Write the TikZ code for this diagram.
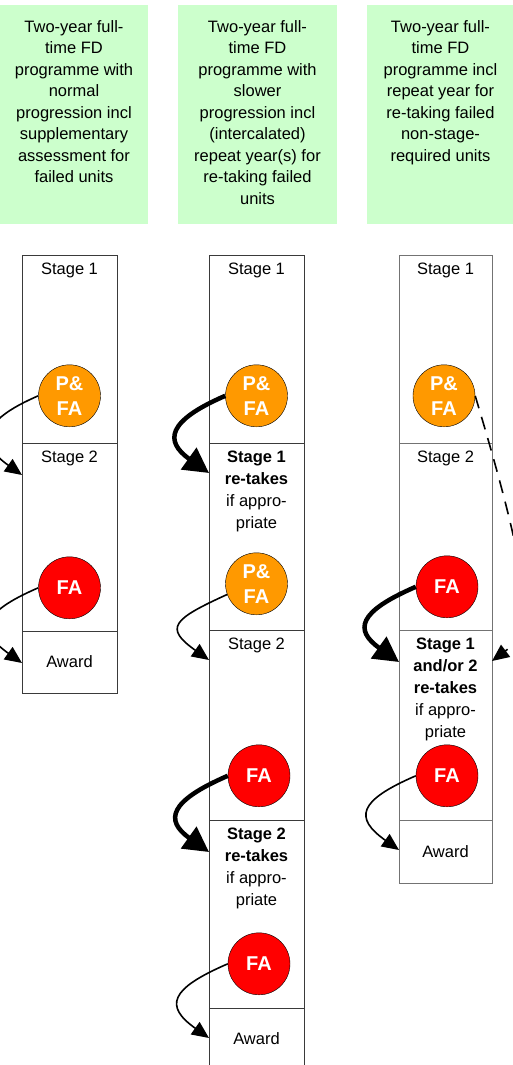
\documentclass[tikz,border=0pt]{standalone}
\usepackage{fontspec}
\setmainfont{Liberation Sans}
\usetikzlibrary{positioning,arrows.meta}

\definecolor{hdrgreen}{HTML}{CCFFCC}
\definecolor{pfaorange}{HTML}{FF9900}
\definecolor{fared}{HTML}{FF0000}
\definecolor{boxgray}{HTML}{3A3A3A}

\tikzset{
	hdr/.style={fill=hdrgreen, minimum height=219pt, inner sep=0pt, outer sep=0pt, anchor=north},
	hdrtxt/.style={align=center, font=\fontsize{16.5}{21.5}\selectfont, inner sep=0pt},
	seg/.style={draw=boxgray, line width=0.8pt, minimum width=95pt, inner sep=0pt, outer sep=0pt, font=\fontsize{16.5}{22}\selectfont},
	segtxt/.style={align=center, font=\fontsize{16.5}{22}\selectfont, inner sep=0pt},
	pfa/.style={circle, draw, fill=pfaorange, minimum size=62pt, inner sep=0pt, text=white, align=center, font=\bfseries\fontsize{20}{25}\selectfont},
	fa/.style={pfa, fill=fared},
	thin/.style={-{Triangle[length=17pt,width=15pt]}, line width=1.6pt},
	thick/.style={-{Triangle[length=25pt,width=26pt]}, line width=4.5pt},
}

\begin{document}
\begin{tikzpicture}[x=1pt,y=-1pt,node distance=0pt]
	\useasboundingbox (0,0) rectangle (513,1065);
	\clip (0,0) rectangle (513,1065);

	% headers
	\node[hdr, minimum width=148pt] (h1) at (74,5) {};
	\node[hdr, minimum width=159pt] (h2) at (257.5,5) {};
	\node[hdr, minimum width=150pt] (h3) at (442,5) {};
	\node[hdrtxt, below=15pt of h1.north] (h1t) {Two-year full-\\time FD\\programme with\\normal\\progression incl\\supplementary\\assessment for\\failed units};
	\node[hdrtxt, below=15pt of h2.north] (h2t) {Two-year full-\\time FD\\programme with\\slower\\progression incl\\(intercalated)\\repeat year(s) for\\re-taking failed\\units};
	\node[hdrtxt, below=15pt of h3.north, xshift=-1.5pt] (h3t) {Two-year full-\\time FD\\programme incl\\repeat year for\\re-taking failed\\non-stage-\\required units};

	% column 1
	\node[seg, minimum height=188pt, anchor=north] (c1s1) at (69.5,255) {};
	\node[seg, minimum height=188pt, below=of c1s1] (c1s2) {};
	\node[seg, minimum height=62pt, below=of c1s2] (c1aw) {Award};
	\node[segtxt, below=8pt of c1s1.north] {Stage 1};
	\node[segtxt, below=8pt of c1s2.north] {Stage 2};
	\node[pfa, above=16pt of c1s1.south] (c1p) {P\&\\FA};
	\node[fa, above=12pt of c1s2.south] (c1f) {FA};

	% column 2
	\node[seg, minimum height=188pt, anchor=north] (c2s1) at (256.5,255) {};
	\node[seg, minimum height=187pt, below=of c2s1] (c2r1) {};
	\node[seg, minimum height=190pt, below=of c2r1] (c2s2) {};
	\node[seg, minimum height=188pt, below=of c2s2] (c2r2) {};
	\node[seg, minimum height=62pt, below=of c2r2] (c2aw) {Award};
	\node[segtxt, below=8pt of c2s1.north] {Stage 1};
	\node[segtxt, below=8pt of c2r1.north] {\textbf{Stage 1}\\\textbf{re-takes}\\if appro-\\priate};
	\node[segtxt, below=8pt of c2s2.north] {Stage 2};
	\node[segtxt, below=8pt of c2r2.north] {\textbf{Stage 2}\\\textbf{re-takes}\\if appro-\\priate};
	\node[pfa, above=16pt of c2s1.south] (c2p1) {P\&\\FA};
	\node[pfa, above=15pt of c2r1.south] (c2p2) {P\&\\FA};
	\node[fa, above=13pt of c2s2.south, xshift=2.5pt] (c2f1) {FA};
	\node[fa, above=13pt of c2r2.south, xshift=2.5pt] (c2f2) {FA};

	% column 3
	\node[seg, draw=black!55, minimum width=93pt, minimum height=188pt, anchor=north] (c3s1) at (445.5,255) {};
	\node[seg, draw=black!55, minimum width=93pt, minimum height=187pt, below=of c3s1] (c3s2) {};
	\node[seg, draw=black!55, minimum width=93pt, minimum height=190pt, below=of c3s2] (c3rt) {};
	\node[seg, draw=black!55, minimum width=93pt, minimum height=63pt, below=of c3rt] (c3aw) {Award};
	\node[segtxt, below=8pt of c3s1.north] {Stage 1};
	\node[segtxt, below=8pt of c3s2.north] {Stage 2};
	\node[segtxt, below=8pt of c3rt.north] {\textbf{Stage 1}\\\textbf{and/or 2}\\\textbf{re-takes}\\if appro-\\priate};
	\node[pfa, above=16pt of c3s1.south, xshift=-1.5pt] (c3p) {P\&\\FA};
	\node[fa, above=12pt of c3s2.south, xshift=1.5pt] (c3f1) {FA};
	\node[fa, above=13pt of c3rt.south, xshift=1.5pt] (c3f2) {FA};

	% arrows
	\draw[thin] (c1p.west) .. controls +(-58,25) and +(-45,-32) .. ([yshift=-32pt]c1s2.north west);
	\draw[thin] (c1f.west) .. controls +(-58,25) and +(-45,-32) .. ([yshift=-32pt]c1aw.north west);
	\draw[thick] (c2p1.west) .. controls +(-58,25) and +(-45,-32) .. ([yshift=-30pt]c2r1.north west);
	\draw[thin] (c2p2.200) .. controls +(-55,25) and +(-45,-32) .. ([yshift=-30pt]c2s2.north west);
	\draw[thick] (c2f1.west) .. controls +(-58,25) and +(-45,-32) .. ([yshift=-32pt]c2r2.north west);
	\draw[thin] (c2f2.west) .. controls +(-58,25) and +(-45,-32) .. ([yshift=-30pt]c2aw.north west);
	\draw[thick] (c3f1.west) .. controls +(-58,25) and +(-45,-32) .. ([yshift=-32pt]c3rt.north west);
	\draw[thin] (c3f2.west) .. controls +(-58,25) and +(-45,-32) .. ([yshift=-30pt]c3aw.north west);
	\draw[thin, dash pattern=on 13pt off 9pt] (c3p.east) .. controls +(60,200) and +(40,-30) .. ([yshift=-31pt]c3rt.north east);
\end{tikzpicture}
\end{document}
